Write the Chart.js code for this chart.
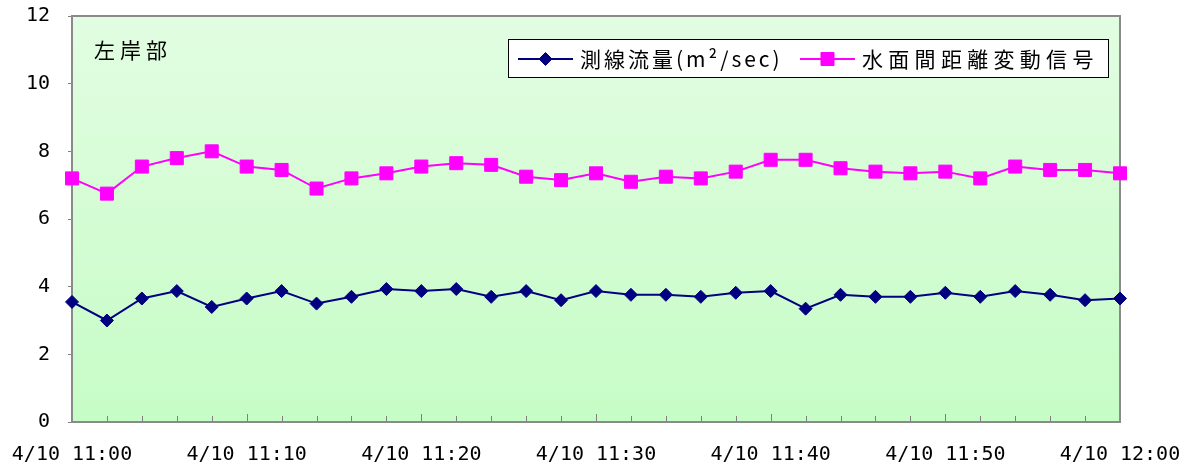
<!DOCTYPE html>
<html lang="ja">
<head>
<meta charset="utf-8">
<title>左岸部 測線流量と水面間距離変動信号</title>
<script src="https://cdn.jsdelivr.net/npm/chart.js@4.4.1/dist/chart.umd.min.js"></script>
<style>
  html, body { margin: 0; padding: 0; background: #ffffff; }
  #wrap { width: 1192px; height: 475px; }
</style>
</head>
<body>
<div id="wrap"><canvas id="chart" width="1192" height="475"></canvas></div>
<script>
// Sampling times (every 2 minutes)
const times = [
  '4/10 11:00', '4/10 11:02', '4/10 11:04', '4/10 11:06', '4/10 11:08',
  '4/10 11:10', '4/10 11:12', '4/10 11:14', '4/10 11:16', '4/10 11:18',
  '4/10 11:20', '4/10 11:22', '4/10 11:24', '4/10 11:26', '4/10 11:28',
  '4/10 11:30', '4/10 11:32', '4/10 11:34', '4/10 11:36', '4/10 11:38',
  '4/10 11:40', '4/10 11:42', '4/10 11:44', '4/10 11:46', '4/10 11:48',
  '4/10 11:50', '4/10 11:52', '4/10 11:54', '4/10 11:56', '4/10 11:58',
  '4/10 12:00'
];

// Labelled ticks on the time axis
const timeTickLabels = [
  '4/10 11:00', '4/10 11:10', '4/10 11:20', '4/10 11:30',
  '4/10 11:40', '4/10 11:50', '4/10 12:00'
];

// Value axis ticks
const valueTicks = [0, 2, 4, 6, 8, 10, 12];

// 測線流量 (m2/sec)
const flowRate = [
  3.55, 3.00, 3.65, 3.87, 3.40, 3.65, 3.87, 3.50, 3.70, 3.93,
  3.87, 3.93, 3.70, 3.87, 3.60, 3.87, 3.76, 3.76, 3.70, 3.82,
  3.87, 3.35, 3.76, 3.70, 3.70, 3.82, 3.70, 3.87, 3.76, 3.60,
  3.65
];

// 水面間距離変動信号
const surfaceSignal = [
  7.20, 6.75, 7.55, 7.80, 8.00, 7.55, 7.45, 6.90, 7.20, 7.35,
  7.55, 7.65, 7.60, 7.25, 7.15, 7.35, 7.10, 7.25, 7.20, 7.40,
  7.75, 7.75, 7.50, 7.40, 7.35, 7.40, 7.20, 7.55, 7.45, 7.45,
  7.35
];

const seriesNames = ['測線流量(m²/sec)', '水面間距離変動信号'];
const panelTitle = '左岸部';

const CJK = '"Noto Sans CJK JP", "Noto Sans", sans-serif';
const MONO = '"DejaVu Sans Mono", "Liberation Mono", monospace';

// Keep label overhang from pushing the plot area around
function noOverhang(scale) {
  scale.paddingLeft = 0;
  scale.paddingRight = 0;
  scale.paddingTop = 0;
  scale.paddingBottom = 0;
}

// Plot area: gradient fill underneath, grey frame, inward time ticks
const plotFrame = {
  id: 'plotFrame',
  beforeDatasetsDraw(chart) {
    const { ctx, chartArea: a } = chart;
    ctx.save();
    const g = ctx.createLinearGradient(0, a.top, 0, a.bottom);
    g.addColorStop(0, 'rgb(226,253,226)');
    g.addColorStop(1, 'rgb(198,252,198)');
    ctx.fillStyle = g;
    ctx.fillRect(a.left, a.top, a.right - a.left, a.bottom - a.top);

    // tick marks along the time axis, pointing into the plot
    const xs = chart.scales.x;
    ctx.strokeStyle = '#808080';
    ctx.lineWidth = 1;
    ctx.beginPath();
    times.forEach((t, i) => {
      const x = Math.round(xs.getPixelForValue(i)) + 0.5;
      const len = timeTickLabels.includes(t) ? 8 : 6;
      ctx.moveTo(x, a.bottom);
      ctx.lineTo(x, a.bottom - len);
    });
    ctx.stroke();

    ctx.strokeStyle = '#8a8a8a';
    ctx.lineWidth = 2;
    ctx.strokeRect(a.left, a.top, a.right - a.left, a.bottom - a.top);
    ctx.restore();
  },
  afterDraw(chart) {
    const { ctx, chartArea: a } = chart;
    ctx.save();
    ctx.fillStyle = '#000000';
    ctx.textBaseline = 'middle';
    ctx.textAlign = 'left';

    // panel title
    ctx.font = '21px ' + CJK;
    ctx.letterSpacing = '5px';
    ctx.fillText(panelTitle, a.left + 22, 50);

    // legend box
    const bx = 508, by = 39, bw = 600, bh = 38;
    ctx.letterSpacing = '0px';
    ctx.fillStyle = '#ffffff';
    ctx.fillRect(bx, by, bw, bh);
    ctx.strokeStyle = '#000000';
    ctx.lineWidth = 1;
    ctx.strokeRect(bx + 0.5, by + 0.5, bw, bh);

    const cy = by + 20;
    const items = [
      { ds: chart.data.datasets[0], x0: 518, x1: 573, tx: 580, spacing: '3px' },
      { ds: chart.data.datasets[1], x0: 800, x1: 855, tx: 862, spacing: '5.3px' }
    ];
    items.forEach(it => {
      const ds = it.ds;
      ctx.strokeStyle = ds.borderColor;
      ctx.lineWidth = 2;
      ctx.beginPath();
      ctx.moveTo(it.x0, cy);
      ctx.lineTo(it.x1, cy);
      ctx.stroke();
      ctx.fillStyle = ds.pointBackgroundColor;
      ctx.strokeStyle = ds.pointBorderColor;
      ctx.lineWidth = ds.pointBorderWidth;
      Chart.helpers.drawPoint(ctx, {
        pointStyle: ds.pointStyle,
        radius: ds.pointRadius,
        borderWidth: ds.pointBorderWidth
      }, (it.x0 + it.x1) / 2, cy);
      ctx.fillStyle = '#000000';
      ctx.font = '21px ' + CJK;
      ctx.letterSpacing = it.spacing;
      ctx.fillText(ds.label, it.tx, cy);
    });
    ctx.restore();
  }
};

new Chart(document.getElementById('chart'), {
  type: 'line',
  data: {
    labels: times,
    datasets: [
      {
        label: seriesNames[0],
        data: flowRate,
        borderColor: '#000080',
        backgroundColor: '#000080',
        borderWidth: 2,
        pointStyle: 'rectRot',
        pointRadius: 6.5,
        pointBorderWidth: 1,
        pointBackgroundColor: '#000080',
        pointBorderColor: '#000080',
        tension: 0,
        clip: false
      },
      {
        label: seriesNames[1],
        data: surfaceSignal,
        borderColor: '#ff00ff',
        backgroundColor: '#ff00ff',
        borderWidth: 2,
        pointStyle: 'rect',
        pointRadius: 9.2,
        pointBorderWidth: 1,
        pointBackgroundColor: '#ff00ff',
        pointBorderColor: '#ff00ff',
        tension: 0,
        clip: false
      }
    ]
  },
  options: {
    responsive: false,
    animation: false,
    devicePixelRatio: 1,
    events: [],
    layout: { padding: { left: 0, right: 72, top: 16, bottom: 0 } },
    plugins: {
      legend: { display: false },
      tooltip: { enabled: false },
      title: { display: false }
    },
    scales: {
      x: {
        type: 'category',
        offset: false,
        border: { display: false },
        grid: { display: false, drawTicks: false },
        ticks: {
          autoSkip: false,
          maxRotation: 0,
          minRotation: 0,
          padding: 21,
          color: '#000000',
          font: { family: MONO, size: 20 },
          callback(value, index) {
            const t = times[index];
            return timeTickLabels.includes(t) ? t : '';
          }
        },
        afterFit(scale) { scale.height = 53; noOverhang(scale); }
      },
      y: {
        min: valueTicks[0],
        max: valueTicks[valueTicks.length - 1],
        border: { display: false },
        grid: {
          display: true,
          drawOnChartArea: false,
          drawTicks: true,
          tickLength: 4,
          color: '#808080'
        },
        afterBuildTicks(scale) {
          scale.ticks = valueTicks.map(v => ({ value: v }));
        },
        ticks: {
          padding: 18,
          color: '#000000',
          font: { family: MONO, size: 20 }
        },
        afterFit(scale) { scale.width = 72; noOverhang(scale); }
      }
    }
  },
  plugins: [plotFrame]
});
</script>
</body>
</html>
